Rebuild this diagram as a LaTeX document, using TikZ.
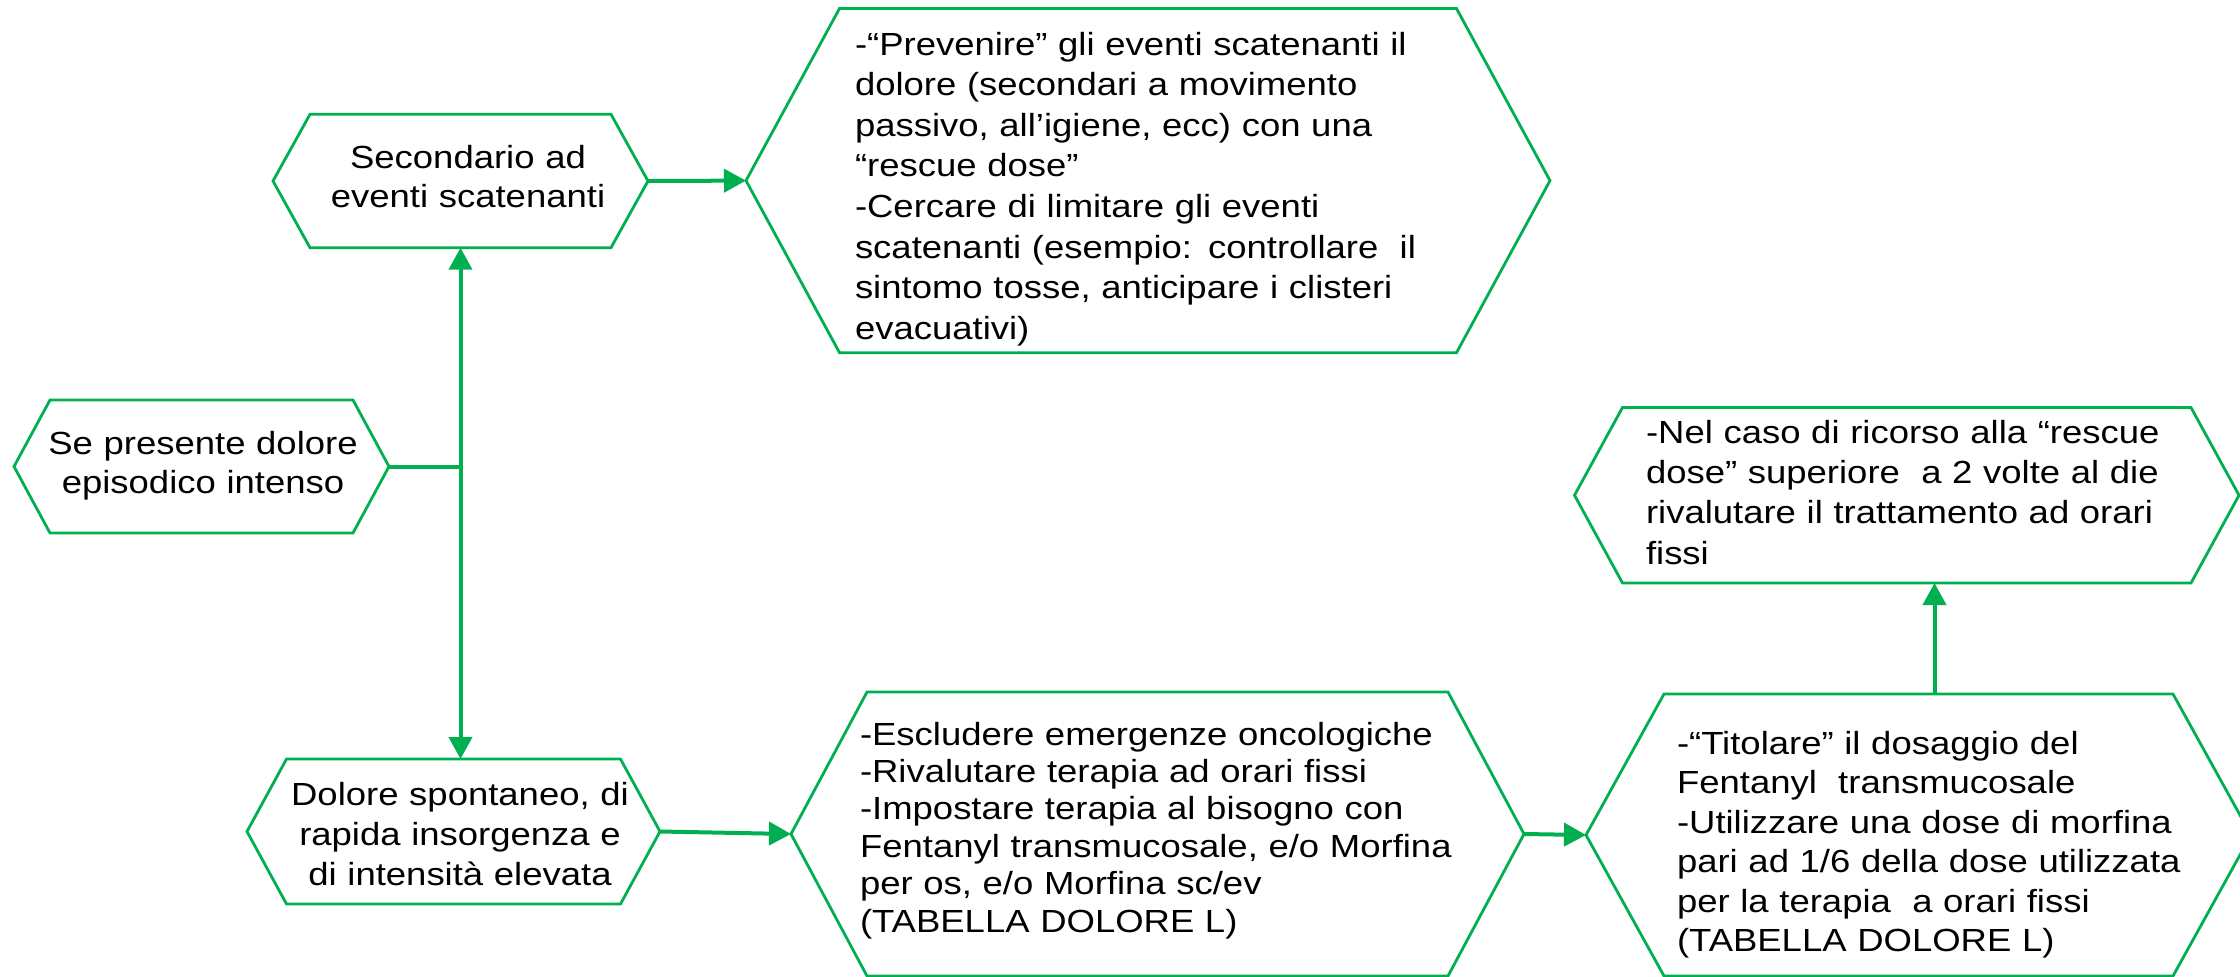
\documentclass[tikz,border=0pt]{standalone}
\usepackage{fontspec}
\setmainfont{Liberation Sans}[FakeStretch=1.14]
\usetikzlibrary{arrows.meta}
\definecolor{flowgreen}{HTML}{00B050}
\tikzset{
  boxarea/.style={rectangle, inner sep=0pt, outer sep=0pt},
  hexline/.style={draw=flowgreen, line width=1.4pt, line join=miter},
  conn/.style={draw=flowgreen, line width=2pt},
  tip/.style={-{Triangle[length=11pt,width=11.5pt]}},
  txt/.style={inner sep=0pt, outer sep=0pt, text=black,
    font=\fontsize{16pt}{19.7pt}\selectfont},
  ctxt/.style={txt, text width=170pt, align=center, anchor=base},
  ltxt/.style={txt, text width=340pt, align=left, anchor=base west},
}
% a hexagonal box: name, left x, top y, right x, bottom y, corner inset (px units)
\newcommand\hexnode[6]{%
  \node[boxarea, minimum width={(#4-#2)*0.5pt}, minimum height={(#5-#3)*0.5pt}]
    (#1) at ({(#2+#4)/2},{(#3+#5)/2}) {};
  \draw[hexline] (#1.west) -- ([xshift={#6*0.5pt}]#1.north west)
    -- ([xshift={-#6*0.5pt}]#1.north east) -- (#1.east)
    -- ([xshift={-#6*0.5pt}]#1.south east)
    -- ([xshift={#6*0.5pt}]#1.south west) -- cycle;
}
\begin{document}
\begin{tikzpicture}[x=0.5pt, y=-0.5pt]
\useasboundingbox (0,0) rectangle (2240,976);
\fill[white] (0,0) rectangle (2240,976);
\clip (0,0) rectangle (2240,976);

% boxes
\hexnode{sec}{273}{114.3}{648}{247.7}{37}
\hexnode{prev}{746}{8.5}{1550}{352.7}{93.5}
\hexnode{pres}{14}{400}{389}{533}{36}
\hexnode{dol}{247}{759}{660}{904}{39.5}
\hexnode{esc}{791}{692}{1524}{976}{76}
\hexnode{tit}{1586}{694}{2251}{976}{78}
\hexnode{nel}{1574.5}{407.5}{2239}{583}{48}

% texts
\node[ctxt] (secT) at (468,168) {Secondario ad\\eventi scatenanti};
\node[ltxt, font=\fontsize{16pt}{20.3pt}\selectfont] (prevT) at (855,55)
{-“Prevenire” gli eventi scatenanti il\\
dolore (secondari a movimento\\
passivo, all’igiene, ecc) con una\\
“rescue dose”\\
-Cercare di limitare gli eventi\\
scatenanti (esempio: controllare\ \ il\\
sintomo tosse, anticipare i clisteri\\
evacuativi)};
\node[ctxt] (presT) at (203,454) {Se presente dolore\\episodico intenso};
\node[ctxt, font=\fontsize{16pt}{20pt}\selectfont] (dolT) at (460,805)
{Dolore spontaneo, di\\rapida insorgenza e\\di intensità elevata};
\node[ltxt, font=\fontsize{16pt}{18.7pt}\selectfont] (escT) at (860,745)
{-Escludere emergenze oncologiche\\
-Rivalutare terapia ad orari fissi\\
-Impostare terapia al bisogno con\\
Fentanyl transmucosale, e/o Morfina\\
per os, e/o Morfina sc/ev\\
(TABELLA DOLORE L)};
\node[ltxt] (titT) at (1677,754.5) {-“Titolare” il dosaggio del\\
Fentanyl\ \ transmucosale\\
-Utilizzare una dose di morfina\\
pari ad 1/6 della dose utilizzata\\
per la terapia\ \ a orari fissi\\
(TABELLA DOLORE L)};
\node[ltxt, font=\fontsize{16pt}{20.2pt}\selectfont] (nelT) at (1646,443)
{-Nel caso di ricorso alla “rescue\\
dose” superiore\ \ a 2 volte al die\\
rivalutare il trattamento ad orari\\
fissi};

% connectors
\coordinate (upx) at (1934.5,700);
\draw[conn] (pres.east) -- (pres.east -| sec.south);
\draw[conn, {Triangle[length=11pt,width=11.5pt]}-{Triangle[length=11pt,width=11.5pt]}]
  (sec.south) -- (sec.south |- dol.north);
\draw[conn, tip] (sec.east) -- (prev.west);
\draw[conn, tip] (dol.east) -- (esc.west);
\draw[conn, tip] (esc.east) -- (tit.west);
\draw[conn, tip] (tit.north -| upx) -- (nel.south -| upx);
\end{tikzpicture}
\end{document}
